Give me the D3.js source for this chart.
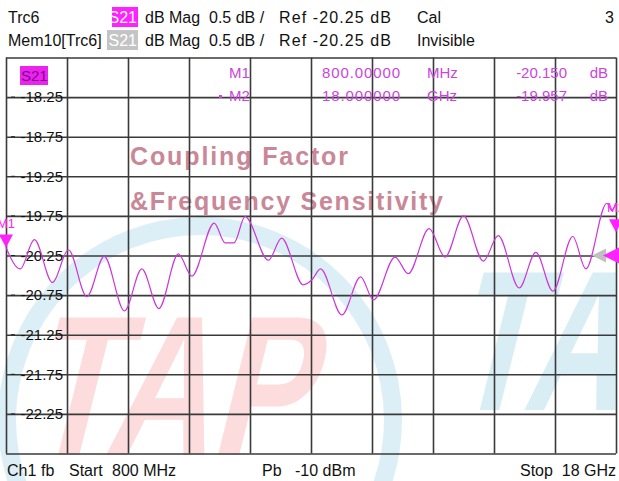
<!DOCTYPE html>
<html>
<head>
<meta charset="utf-8">
<title>S21 Coupling Factor</title>
<script src="https://d3js.org/d3.v7.min.js"></script>
<style>
    body { margin: 0; background: #ffffff; }
    svg { display: block; font-family: Arial, "Liberation Sans", sans-serif; }
</style>
</head>
<body>
<div id="chart-div"></div>
<script>
//---------------------------------//
// Data                            //
//---------------------------------//

// trace 6, S21 magnitude
var traceFreq = [0.80, 1.20, 1.60, 2.11, 2.56, 3.08, 3.57, 4.14, 4.63, 5.11,
                 5.66, 6.04, 6.67, 6.98, 7.23, 7.54, 8.20, 8.57, 9.18, 9.42,
                 9.67, 10.27, 10.80, 11.16, 11.77, 12.14, 12.73, 13.18, 13.70, 14.26,
                 14.68, 15.27, 15.74, 16.22, 16.78, 17.15, 17.74, 17.88, 18.00]; // GHz
var traceMag = [-20.15, -20.42, -20.05, -20.59, -20.18, -20.77, -20.26, -20.95, -20.42, -20.92,
                -20.23, -20.51, -19.84, -20.09, -20.09, -19.76, -20.31, -20.03, -20.62, -20.56,
                -20.42, -21.00, -20.52, -20.81, -20.27, -20.48, -19.91, -20.27, -19.75, -20.32,
                -20.00, -20.66, -20.21, -20.70, -20.01, -20.42, -19.59, -19.68, -19.59]; // dB

var yGrid = [-17.75, -18.25, -18.75, -19.25, -19.75, -20.25, -20.75, -21.25, -21.75, -22.25, -22.75];
var yLabels = [-18.25, -18.75, -19.25, -19.75, -20.25, -20.75, -21.25, -21.75, -22.25];
var startFreq = 0.8;
var stopFreq = 18;
var refLevel = -20.25;

var markerNames = ['M1', 'M2'];
var markerFreq = [0.8, 18];
var markerMag = [-20.150, -19.957];
var markerFreqText = ['800.00000', '18.000000'];
var markerUnit = ['MHz', 'GHz'];
var markerMagText = ['-20.150', '-19.957'];

var headerNames = ['Trc6', 'Mem10[Trc6]'];
var headerTags = ['S21', 'S21'];
var headerTagColors = ['#ff22ff', '#c4c4c4'];
var headerStates = ['Cal', 'Invisible'];
var headerScale = ['dB Mag', '0.5 dB /', 'Ref -20.25 dB'];
var footerLeft = ['Ch1', 'fb', 'Start', '800 MHz'];
var footerMid = ['Pb', '-10 dBm'];
var footerRight = 'Stop  18 GHz';

//---------------------------------//
// Chart Object                    //
//---------------------------------//

window.Chart = window.Chart || {};

Chart.init = function() {
    Chart.setup.initConsts();
    Chart.setup.initGraph();

    Chart.draw.watermark();
    Chart.draw.grid();
    Chart.draw.labels();
    Chart.draw.trace();
    Chart.draw.markers();
    Chart.draw.header();
};

Chart.setup = {
    initConsts: function() {
        Chart.width = 619;
        Chart.height = 481;

        Chart.left = 6;
        Chart.right = 616;
        Chart.top = 57.5;
        Chart.bottom = 453.5;

        Chart.traceColor = '#cc38d8';
        Chart.textColor = '#cc44dd';
        Chart.gridColor = '#3a3a3a';
    },

    initGraph: function() {
        Chart.svg = d3.select('#chart-div')
                      .append('svg')
                        .attr('width', Chart.width)
                        .attr('height', Chart.height);

        Chart.x = d3.scaleLinear()
                    .domain([startFreq, stopFreq])
                    .range([Chart.left, Chart.right]);
        Chart.y = d3.scaleLinear()
                    .domain([d3.min(yGrid), d3.max(yGrid)])
                    .range([Chart.bottom, Chart.top]);
    }
};

Chart.draw = {
    watermark: function() {
        var g = Chart.svg.append('g').attr('pointer-events', 'none');

        // blue ring
        g.append('ellipse')
         .attr('cx', 200).attr('cy', 420)
         .attr('rx', 193).attr('ry', 194)
         .attr('fill', 'none')
         .attr('stroke', 'rgba(140,200,225,0.30)')
         .attr('stroke-width', 18);

        // red letters
        g.append('text')
         .attr('transform', 'translate(24,455) skewX(-14)')
         .attr('textLength', 282)
         .attr('lengthAdjust', 'spacingAndGlyphs')
         .attr('font-size', 200)
         .attr('font-weight', 'bold')
         .attr('fill', 'rgba(245,120,120,0.26)')
         .text('TAP');

        // blue letters, right edge
        g.append('text')
         .attr('transform', 'translate(448,410) skewX(-14)')
         .attr('textLength', 262)
         .attr('lengthAdjust', 'spacingAndGlyphs')
         .attr('font-size', 200)
         .attr('font-weight', 'bold')
         .attr('fill', 'rgba(130,195,220,0.30)')
         .text('TAP');

        g.append('text')
         .attr('x', 130).attr('y', 165)
         .attr('textLength', 218)
         .attr('font-size', 25)
         .attr('font-weight', 'bold')
         .attr('fill', '#c98797')
         .text('Coupling Factor');

        g.append('text')
         .attr('x', 130).attr('y', 210)
         .attr('textLength', 313)
         .attr('font-size', 25)
         .attr('font-weight', 'bold')
         .attr('fill', '#c98797')
         .text('&Frequency Sensitivity');
    },

    grid: function() {
        var gridFreq = d3.range(11).map(function(i) {
            return startFreq + i*(stopFreq - startFreq)/10;
        });

        var vAxis = d3.axisBottom(Chart.x)
                      .tickValues(gridFreq)
                      .tickSize(-(Chart.bottom - Chart.top))
                      .tickFormat('');
        var hAxis = d3.axisLeft(Chart.y)
                      .tickValues(yGrid)
                      .tickSize(-(Chart.right - Chart.left))
                      .tickFormat('');

        var gv = Chart.svg.append('g')
                     .attr('transform', 'translate(0,' + Chart.bottom + ')')
                     .call(vAxis);
        var gh = Chart.svg.append('g')
                     .attr('transform', 'translate(' + Chart.left + ',0)')
                     .call(hAxis);

        [gv, gh].forEach(function(g) {
            g.select('.domain').remove();
            g.selectAll('line')
             .attr('stroke', Chart.gridColor)
             .attr('stroke-width', 1.6);
        });
    },

    labels: function() {
        // value labels just left of the first vertical grid line
        var labelAxis = d3.axisLeft(Chart.y)
                          .tickValues(yLabels)
                          .tickSize(0)
                          .tickPadding(4)
                          .tickFormat(function(d) { return d.toFixed(2); }); // plain hyphen

        var gl = Chart.svg.append('g')
                     .attr('transform', 'translate(' + Chart.x(startFreq + (stopFreq - startFreq)/10) + ',0)')
                     .call(labelAxis);
        gl.select('.domain').remove();
        gl.selectAll('text')
          .attr('font-size', 15)
          .attr('font-family', 'Arial, "Liberation Sans", sans-serif')
          .attr('fill', '#111');

        // small dashes next to the left border
        Chart.svg.append('g')
          .selectAll('line')
          .data(yLabels)
          .join('line')
            .attr('x1', 11).attr('x2', 15)
            .attr('y1', function(d) { return Chart.y(d); })
            .attr('y2', function(d) { return Chart.y(d); })
            .attr('stroke', '#222')
            .attr('stroke-width', 1);

        // footer
        var foot = Chart.svg.append('g')
                       .attr('font-size', 16)
                       .attr('fill', '#111');
        var footX = [7, 41, 69, 112];
        footerLeft.forEach(function(s, i) {
            foot.append('text').attr('x', footX[i]).attr('y', 476).text(s);
        });
        var midX = [262, 295];
        footerMid.forEach(function(s, i) {
            foot.append('text').attr('x', midX[i]).attr('y', 476).text(s);
        });
        foot.append('text')
            .attr('x', 616).attr('y', 476)
            .attr('text-anchor', 'end')
            .attr('xml:space', 'preserve')
            .text(footerRight);
    },

    trace: function() {
        var pts = traceFreq.map(function(f, i) { return [f, traceMag[i]]; });

        var line = d3.line()
                     .x(function(d) { return Chart.x(d[0]); })
                     .y(function(d) { return Chart.y(d[1]); })
                     .curve(d3.curveMonotoneX);

        Chart.svg.append('path')
          .datum(pts)
          .attr('d', line)
          .attr('fill', 'none')
          .attr('stroke', Chart.traceColor)
          .attr('stroke-width', 1.2);
    },

    markers: function() {
        var g = Chart.svg.append('g');

        markerNames.forEach(function(name, i) {
            var mx = Chart.x(markerFreq[i]);
            var my = Chart.y(markerMag[i]);

            g.append('path')
             .attr('d', 'M' + (mx - 7) + ',' + (my - 13) + 'L' + (mx + 7) + ',' + (my - 13) + 'L' + mx + ',' + my + 'Z')
             .attr('fill', '#ff22ff');
            g.append('text')
             .attr('x', mx).attr('y', my - 20)
             .attr('text-anchor', 'middle')
             .attr('font-size', 13)
             .attr('fill', '#ff22ff')
             .text(name);
        });

        // reference level arrows on the right border
        var ry = Chart.y(refLevel);
        g.append('path')
         .attr('d', 'M592,' + ry + 'L606,' + (ry - 7) + 'L606,' + (ry + 7) + 'Z')
         .attr('fill', '#c0c0c0');
        g.append('path')
         .attr('d', 'M603,' + ry + 'L621,' + (ry - 9) + 'L621,' + (ry + 9) + 'Z')
         .attr('fill', '#ff22ff');

        // marker readout
        var tbl = Chart.svg.append('g')
                      .attr('font-size', 15)
                      .attr('fill', Chart.textColor);
        var rowY = [78, 101];
        markerNames.forEach(function(name, i) {
            tbl.append('text').attr('x', 229).attr('y', rowY[i]).text(name);
            tbl.append('text').attr('x', 322).attr('y', rowY[i])
               .attr('textLength', 78).text(markerFreqText[i]);
            tbl.append('text').attr('x', 427).attr('y', rowY[i]).text(markerUnit[i]);
            tbl.append('text').attr('x', 567).attr('y', rowY[i]).attr('text-anchor', 'end').text(markerMagText[i]);
            tbl.append('text').attr('x', 608).attr('y', rowY[i]).attr('text-anchor', 'end').text('dB');
        });
        // active marker dot
        tbl.append('rect')
           .attr('x', 219).attr('y', rowY[1] - 6)
           .attr('width', 3).attr('height', 3);

        // trace tag inside the diagram
        Chart.svg.append('rect')
          .attr('x', 20).attr('y', 66)
          .attr('width', 28).attr('height', 19)
          .attr('fill', '#ee22ee');
        Chart.svg.append('text')
          .attr('x', 21).attr('y', 81)
          .attr('font-size', 15)
          .attr('fill', '#7a0a8a')
          .text('S21');
    },

    header: function() {
        var g = Chart.svg.append('g')
                    .attr('font-size', 16)
                    .attr('fill', '#111');
        var rowY = [23, 46];
        var boxX = [112, 107];
        var sx = [145, 209, 279];

        headerNames.forEach(function(name, i) {
            g.append('text').attr('x', 8).attr('y', rowY[i]).text(name);

            g.append('rect')
             .attr('x', boxX[i]).attr('y', rowY[i] - 16)
             .attr('width', 138 - boxX[i]).attr('height', 20)
             .attr('fill', headerTagColors[i]);
            g.append('text')
             .attr('x', 137).attr('y', rowY[i])
             .attr('text-anchor', 'end')
             .attr('fill', '#ffffff')
             .text(headerTags[i]);

            headerScale.forEach(function(s, j) {
                var t = g.append('text').attr('x', sx[j]).attr('y', rowY[i]).text(s);
                if (j === 2) t.attr('textLength', 112); // Ref text is drawn wider on the analyser
            });
            g.append('text').attr('x', 417).attr('y', rowY[i]).text(headerStates[i]);
        });

        g.append('text')
         .attr('x', 614).attr('y', rowY[0])
         .attr('text-anchor', 'end')
         .text('3');
    }
};

document.addEventListener('DOMContentLoaded', Chart.init);
</script>
</body>
</html>
